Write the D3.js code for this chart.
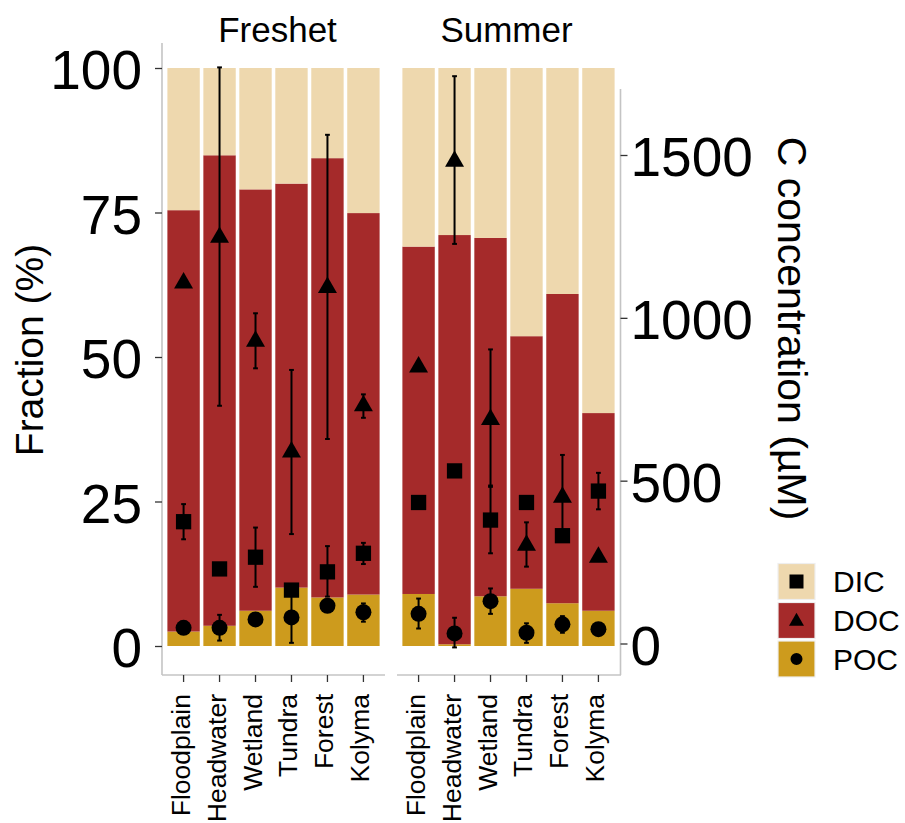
<!DOCTYPE html>
<html>
<head>
<meta charset="utf-8">
<script src="https://cdn.jsdelivr.net/npm/d3@7"></script>
<style>
  html, body { margin: 0; padding: 0; background: #fff; }
  svg { display: block; font-family: "Liberation Sans", Arial, Helvetica, sans-serif; }
</style>
</head>
<body>
<svg id="chart" width="905" height="823"></svg>
<script>
// ---------------- data ----------------
const categories = ["Floodplain", "Headwater", "Wetland", "Tundra", "Forest", "Kolyma"];
const seasons = ["Freshet", "Summer"];
const components = ["DIC", "DOC", "POC"];

// Fractions (%) stacked: POC bottom, DOC middle, DIC top
const fracPOC_Freshet = [2.5, 3.5, 6.1, 10.1, 8.4, 8.9];
const fracDOC_Freshet = [72.9, 81.4, 72.9, 69.9, 76.0, 66.0];
const fracDIC_Freshet = [24.6, 15.1, 21.0, 20.0, 15.6, 25.1];
const fracPOC_Summer = [9.0, 0.3, 8.6, 9.9, 7.4, 6.1];
const fracDOC_Summer = [60.1, 70.8, 62.0, 43.7, 53.5, 34.2];
const fracDIC_Summer = [30.9, 28.9, 29.4, 46.4, 39.1, 59.7];

// Concentrations (µM) with error ranges [lo, hi] (null = no error bar shown)
const concDIC_Freshet = [374, 229, 265, 164, 220, 277];
const errDIC_Freshet = [[320, 428], null, [174, 356], null, [144, 299], [244, 309]];
const concDOC_Freshet = [1107, 1247, 928, 588, 1093, 730];
const errDOC_Freshet = [null, [730, 1769], [845, 1014], [336, 840], [628, 1562], [693, 765]];
const concPOC_Freshet = [48, 48, 74, 80, 116, 96];
const errPOC_Freshet = [null, [9, 88], null, [2, 158], null, [67, 123]];

const concDIC_Summer = [433, 530, 379, 433, 331, 468];
const errDIC_Summer = [null, null, [277, 481], null, null, [412, 524]];
const concDOC_Summer = [849, 1481, 688, 302, 449, 265];
const errDOC_Summer = [null, [1227, 1742], [485, 903], [236, 372], [337, 579], null];
const concPOC_Summer = [91, 31, 130, 33, 59, 44];
const errPOC_Summer = [[46, 138], [-12, 79], [91, 169], [2, 62], [33, 84], null];

const fracTicks = [0, 25, 50, 75, 100];
const concTicks = [0, 500, 1000, 1500];

// ---------------- styling ----------------
const colors = { DIC: "#EED8AE", DOC: "#A52A2A", POC: "#CD9B1D" };
const shapes = { DIC: d3.symbolSquare, DOC: d3.symbolTriangle, POC: d3.symbolCircle };
const markSize = { DIC: 234, DOC: 156, POC: 201 };
const legendSize = { DIC: 196, DOC: 97, POC: 113 };

const svg = d3.select("#chart");

const panels = [
  { season: "Freshet", x0: 162, x1: 385, titleX: 277.5,
    frac: { POC: fracPOC_Freshet, DOC: fracDOC_Freshet, DIC: fracDIC_Freshet },
    conc: { DIC: concDIC_Freshet, DOC: concDOC_Freshet, POC: concPOC_Freshet },
    err: { DIC: errDIC_Freshet, DOC: errDOC_Freshet, POC: errPOC_Freshet } },
  { season: "Summer", x0: 397, x1: 620, titleX: 506.5,
    frac: { POC: fracPOC_Summer, DOC: fracDOC_Summer, DIC: fracDIC_Summer },
    conc: { DIC: concDIC_Summer, DOC: concDOC_Summer, POC: concPOC_Summer },
    err: { DIC: errDIC_Summer, DOC: errDOC_Summer, POC: errPOC_Summer } }
];

const yFrac = d3.scaleLinear().domain([0, 100]).range([646, 68]);
const yConc = d3.scaleLinear().domain([0, 1500]).range([643.5, 155]);

const axisColor = "#c4c4c4";
const tickColor = "#333333";
const panelBottom = 675;

panels.forEach((p, pi) => {
  const x = d3.scaleBand().domain(categories).range([p.x0, p.x1])
    .paddingInner(0.1).paddingOuter(0.15);
  const g = svg.append("g");

  // stacked bars
  const stackOrder = ["POC", "DOC", "DIC"];
  categories.forEach((c, i) => {
    let base = 0;
    stackOrder.forEach(k => {
      const v = p.frac[k][i];
      g.append("rect")
        .attr("x", x(c)).attr("width", x.bandwidth())
        .attr("y", yFrac(base + v)).attr("height", yFrac(base) - yFrac(base + v))
        .attr("fill", colors[k]);
      base += v;
    });
  });

  // error bars
  const capW = 2.4;
  ["DIC", "DOC", "POC"].forEach(k => {
    p.err[k].forEach((e, i) => {
      if (!e) return;
      const cx = x(categories[i]) + x.bandwidth() / 2;
      const eg = g.append("g").attr("stroke", "#000").attr("stroke-width", 2).attr("fill", "none");
      eg.append("line").attr("x1", cx).attr("x2", cx).attr("y1", yConc(e[0])).attr("y2", yConc(e[1]));
      eg.append("line").attr("x1", cx - capW).attr("x2", cx + capW).attr("y1", yConc(e[0])).attr("y2", yConc(e[0]));
      eg.append("line").attr("x1", cx - capW).attr("x2", cx + capW).attr("y1", yConc(e[1])).attr("y2", yConc(e[1]));
    });
  });

  // points
  ["DIC", "DOC", "POC"].forEach(k => {
    p.conc[k].forEach((v, i) => {
      const cx = x(categories[i]) + x.bandwidth() / 2;
      g.append("path")
        .attr("d", d3.symbol().type(shapes[k]).size(markSize[k])())
        .attr("transform", `translate(${cx},${yConc(v)})`)
        .attr("fill", "#000");
    });
  });

  // bottom axis line
  svg.append("line").attr("x1", p.x0).attr("x2", p.x1 + (pi === 1 ? 1 : 0))
    .attr("y1", panelBottom).attr("y2", panelBottom)
    .attr("stroke", axisColor).attr("stroke-width", 1.6);

  // x axis ticks & labels
  const xa = svg.append("g").attr("transform", `translate(0,${panelBottom})`)
    .call(d3.axisBottom(x).tickSize(7).tickSizeOuter(0));
  xa.select(".domain").remove();
  xa.selectAll(".tick line").attr("stroke", tickColor).attr("stroke-width", 1.3);
  xa.selectAll(".tick text")
    .attr("font-size", 26.5).attr("fill", "#000")
    .attr("text-anchor", "end")
    .attr("transform", "translate(0,19) rotate(-90)")
    .attr("x", 0).attr("y", 0).attr("dy", "6px");

  // facet title
  svg.append("text").attr("x", p.titleX).attr("y", 41.7)
    .attr("text-anchor", "middle").attr("font-size", 35).attr("fill", "#000")
    .text(p.season);
});

// left axis (fraction)
svg.append("line").attr("x1", 162).attr("x2", 162).attr("y1", 43).attr("y2", panelBottom)
  .attr("stroke", axisColor).attr("stroke-width", 1.6);
const ya = svg.append("g").attr("transform", "translate(162,0)")
  .call(d3.axisLeft(yFrac).tickValues(fracTicks).tickSize(7).tickPadding(13));
ya.select(".domain").remove();
ya.selectAll(".tick line").attr("stroke", tickColor).attr("stroke-width", 1.3);
ya.selectAll(".tick text").attr("font-size", 55).attr("fill", "#000").attr("dy", "0.38em");

// right axis (concentration)
svg.append("line").attr("x1", 620.5).attr("x2", 620.5).attr("y1", 89).attr("y2", panelBottom)
  .attr("stroke", axisColor).attr("stroke-width", 1.6);
const yr = svg.append("g").attr("transform", "translate(620.5,0)")
  .call(d3.axisRight(yConc).tickValues(concTicks).tickFormat(d3.format("d")).tickSize(7).tickPadding(3));
yr.select(".domain").remove();
yr.selectAll(".tick line").attr("stroke", tickColor).attr("stroke-width", 1.3);
yr.selectAll(".tick text").attr("font-size", 55).attr("fill", "#000").attr("dy", "0.38em");

// axis titles
svg.append("text").attr("transform", "translate(43,350) rotate(-90)")
  .attr("text-anchor", "middle").attr("font-size", 39).attr("fill", "#000")
  .text("Fraction (%)");
svg.append("text").attr("transform", "translate(778,328.5) rotate(90)")
  .attr("text-anchor", "middle").attr("font-size", 41).attr("fill", "#000")
  .text("C concentration (µM)");

// legend
const legendCenters = [581.5, 620.5, 659];
components.forEach((k, i) => {
  const cy = legendCenters[i];
  svg.append("rect").attr("x", 778).attr("y", cy - 18).attr("width", 37).attr("height", 36)
    .attr("fill", colors[k]).attr("stroke", "#eeeeee").attr("stroke-width", 1.2);
  svg.append("path")
    .attr("d", d3.symbol().type(shapes[k]).size(legendSize[k])())
    .attr("transform", `translate(796.5,${cy + (k === "DOC" ? 1 : 0)})`)
    .attr("fill", "#000");
  svg.append("text").attr("x", 833).attr("y", cy).attr("dy", "0.36em")
    .attr("font-size", 30).attr("fill", "#000").text(k);
});
</script>
</body>
</html>
